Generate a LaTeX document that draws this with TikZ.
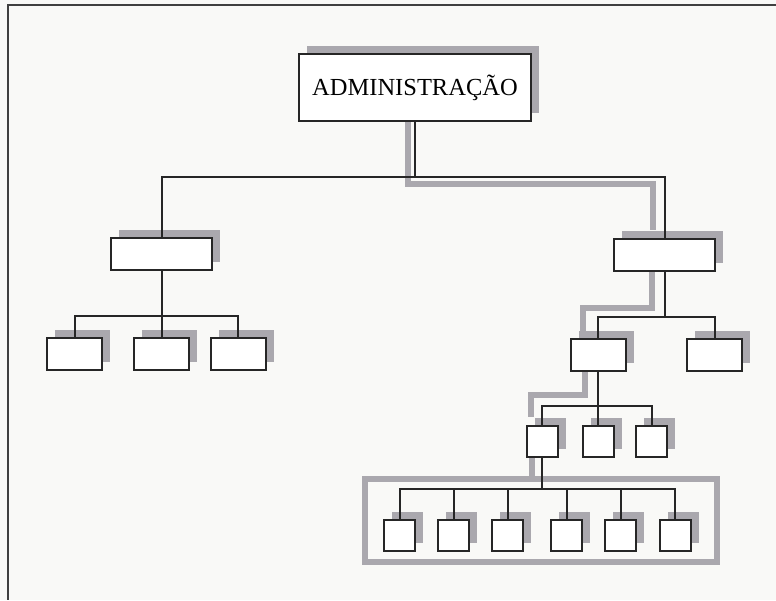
\documentclass[tikz,border=0pt]{standalone}
\usepackage{fontspec}
\setmainfont{Liberation Serif}
\usetikzlibrary{shadows}
\definecolor{boxshade}{RGB}{170,168,174}
\definecolor{paper}{RGB}{249,249,247}

\begin{document}
\begin{tikzpicture}[x=1pt,y=-1pt,
    box/.style={draw=black!85,line width=2pt,fill=white,inner sep=0pt,
      drop shadow={shadow xshift=8pt,shadow yshift=8pt,fill=boxshade,opacity=1}},
    unitbox/.style={box,minimum width=101pt,minimum height=32pt},
    subbox/.style={box,minimum width=55pt,minimum height=32pt},
    cellbox/.style={box,minimum width=31pt,minimum height=31pt},
    grpbox/.style={draw=boxshade,line width=5.5pt,minimum width=352pt,minimum height=83pt},
    link/.style={line width=2pt,black!85},
    route/.style={line width=5.5pt,draw=boxshade}]
        \useasboundingbox (0,0) rectangle (776,600);
        \fill[paper] (0,0) rectangle (776,600);
        \draw[line width=1.5pt,black!75] (776,5) -- (8,5) -- (8,600);

        \node[box,minimum width=232pt,minimum height=67pt,
              font=\fontsize{24.5}{28}\selectfont] (admin) at (415,87.5) {ADMINISTRAÇÃO};
        \node[unitbox] (r2c1) at (161.5,254) {};
        \node[unitbox] (r2c2) at (664.5,255) {};
        \node[subbox] (r3c1) at (74.5,354) {};
        \node[subbox] (r3c2) at (161.5,354) {};
        \node[subbox] (r3c3) at (238,354) {};
        \node[subbox] (r3c4) at (598,355) {};
        \node[subbox] (r3c5) at (714.5,355) {};
        \node[cellbox] (r4c1) at (542,441.5) {};
        \node[cellbox] (r4c2) at (598,441.5) {};
        \node[cellbox] (r4c3) at (651.5,441.5) {};
        \foreach \x [count=\i] in {399.5,453.5,507.5,566.5,620.5,675}
          \node[cellbox] (r5c\i) at (\x,535.5) {};
        \node[grpbox] (grp) at (541,520.5) {};

        % highlighted path
        \draw[route] ([xshift=-7pt]admin.south) -- ++(0,62) -| ([xshift=-11.5pt,yshift=8pt]r2c2.north)
              ([xshift=-12.5pt]r2c2.south) -- ++(0,36) -| ([xshift=-15pt,yshift=6pt]r3c4.north)
              ([xshift=-13pt]r3c4.south) -- ++(0,23) -| ([xshift=-11pt,yshift=8pt]r4c1.north)
              ([xshift=-10pt]r4c1.south) -- ([xshift=-10pt]r4c1.south |- grp.north);

        \draw[link] (admin.south) -- ++(0,55) coordinate (b1) -| (r2c1.north)
              (b1) -| (r2c2.north)
              (r2c1.south) -- ++(0,45) coordinate (b2) -| (r3c1.north)
              (b2) -| (r3c3.north)
              (r2c1.south) -- (r3c2.north)
              (r2c2.south) -- ++(0,45) coordinate (b3) -| (r3c4.north)
              (b3) -| (r3c5.north)
              (r3c4.south) -- ++(0,34) coordinate (b4) -| (r4c1.north)
              (b4) -| (r4c3.north)
              (r3c4.south) -- (r4c2.north)
              (r4c1.south) -- ++(0,31) coordinate (b5)
              foreach \i in {1,...,6} {(b5) -| (r5c\i.north)};
      \end{tikzpicture}
\end{document}
